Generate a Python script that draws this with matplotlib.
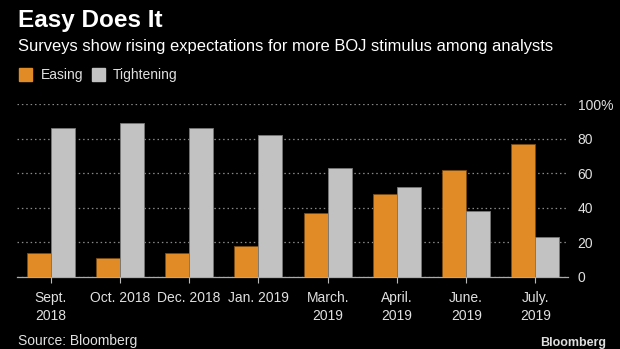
import matplotlib.pyplot as plt
import numpy as np

# survey data (% of analysts)
labels = ['Sept.\n2018', 'Oct. 2018', 'Dec. 2018', 'Jan. 2019',
          'March.\n2019', 'April.\n2019', 'June.\n2019', 'July.\n2019']
easing = [14, 11, 14, 18, 37, 48, 62, 77]
tightening = [86, 89, 86, 82, 63, 52, 38, 23]
yticks = [0, 20, 40, 60, 80, 100]
ytick_labels = ['0', '20', '40', '60', '80', '100%']

orange = '#e08b25'
grey = '#c2c2c2'
txt = '#e0e0e0'
plt.rcParams['font.family'] = ['Liberation Sans', 'DejaVu Sans']

W, H = 620, 349
fig = plt.figure(figsize=(6.2, 3.49), dpi=100, facecolor='black')
ax = fig.add_axes([17 / W, 1 - 277 / H, 551 / W, 173 / H], facecolor='black')

x = np.arange(len(labels))
w = 0.346
ax.bar(x - w / 2, easing, w, color=orange, edgecolor='#7a4a10', linewidth=0.6, zorder=3)
ax.bar(x + w / 2, tightening, w, color=grey, edgecolor='#777777', linewidth=0.6, zorder=3)

ax.set_xlim(-0.486, 7.47)
ax.set_ylim(0, 100)
ax.yaxis.tick_right()
ax.set_yticks(yticks)
ax.set_yticklabels(ytick_labels)
ax.grid(axis='y', color='#8a8a8a', linestyle=(0, (1.2, 2.3)), linewidth=0.9, zorder=0)
ax.set_xticks(x)
ax.set_xticklabels(labels, linespacing=1.35)
ax.tick_params(axis='x', colors='#bbbbbb', length=4, width=0.8, pad=6, labelcolor=txt, labelsize=10)
ax.tick_params(axis='y', length=0, pad=7, labelcolor=txt, labelsize=10)
for s in ['top', 'left', 'right']:
    ax.spines[s].set_visible(False)
ax.spines['bottom'].set_color('#aaaaaa')
ax.spines['bottom'].set_linewidth(0.9)

fig.text(18 / W, 1 - 21 / H, 'Easy Does It', color='white', fontsize=17.5, fontweight='bold', va='center')
fig.text(18 / W, 1 - 46 / H, 'Surveys show rising expectations for more BOJ stimulus among analysts',
         color='white', fontsize=11.9, va='center')

# legend
fig.patches.append(plt.Rectangle((19 / W, 1 - 81 / H), 13 / W, 13 / H,
                                 transform=fig.transFigure, color=orange))
fig.text(41 / W, 1 - 74.5 / H, 'Easing', color=txt, fontsize=10, va='center')
fig.patches.append(plt.Rectangle((92 / W, 1 - 81 / H), 13 / W, 13 / H,
                                 transform=fig.transFigure, color=grey))
fig.text(113 / W, 1 - 74.5 / H, 'Tightening', color=txt, fontsize=10, va='center')

fig.text(18 / W, 1 - 341 / H, 'Source: Bloomberg', color=txt, fontsize=10, va='center')
fig.text(606 / W, 1 - 343 / H, 'Bloomberg', color='#dddddd', fontsize=9, fontweight='bold',
         ha='right', va='center')

fig.savefig('out.png', dpi=100, facecolor='black')
